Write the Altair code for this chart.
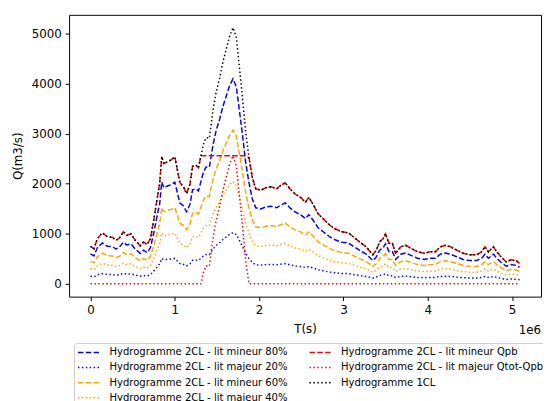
import altair as alt
import pandas as pd

# time (in 1e6 s)
T_E6 = [0.00, 0.04, 0.08, 0.14, 0.20, 0.26, 0.30, 0.34, 0.39, 0.43, 0.48, 0.53, 0.59, 0.63, 0.67,
        0.71, 0.75, 0.79, 0.82, 0.845, 0.87, 0.92, 0.96, 1.00, 1.06, 1.10, 1.14, 1.18, 1.21, 1.25,
        1.28, 1.31, 1.34, 1.37, 1.41, 1.45, 1.49, 1.53, 1.57, 1.61, 1.65, 1.69, 1.73, 1.76, 1.80,
        1.84, 1.88, 1.92, 1.96, 2.02, 2.08, 2.14, 2.21, 2.25, 2.31, 2.37, 2.43, 2.49, 2.55, 2.59,
        2.64, 2.70, 2.76, 2.84, 2.90, 2.98, 3.06, 3.11, 3.19, 3.27, 3.35, 3.39, 3.43, 3.47, 3.50,
        3.54, 3.58, 3.62, 3.68, 3.74, 3.80, 3.88, 3.96, 4.03, 4.09, 4.15, 4.21, 4.27, 4.35, 4.42,
        4.50, 4.58, 4.64, 4.68, 4.72, 4.78, 4.82, 4.87, 4.93, 4.99, 5.05, 5.09]

Q_1CL = [750, 700, 900, 1020, 940, 930, 870, 910, 1040, 970, 1000, 870, 760, 840, 780,
         900, 1270, 1700, 2000, 2540, 2400, 2450, 2480, 2540, 2020, 1950, 1800, 1990, 2350, 2370,
         2320, 2560, 2790, 2920, 2910, 3440, 3830, 4100, 4430, 4690, 4950, 5120, 4920, 4430, 3770,
         3040, 2520, 2120, 1900, 1870, 1920, 1940, 1900, 1960, 2020, 1890, 1790, 1730, 1630, 1730,
         1590, 1400, 1300, 1170, 1100, 1040, 1020, 950, 840, 740, 580, 670, 840, 900, 1000,
         810, 810, 610, 740, 770, 710, 640, 610, 640, 640, 740, 770, 740, 670, 610,
         580, 580, 640, 740, 640, 740, 640, 540, 440, 480, 460, 410]

Q_MIN80 = [600, 560, 720, 816, 752, 744, 696, 728, 832, 776, 800, 696, 608, 672, 624,
           720, 1016, 1360, 1600, 2032, 1920, 1960, 1984, 2032, 1616, 1560, 1440, 1592, 1880, 1896,
           1856, 2048, 2232, 2336, 2328, 2752, 3064, 3280, 3544, 3752, 3960, 4096, 3936, 3544, 3016,
           2432, 2016, 1696, 1520, 1496, 1536, 1552, 1520, 1568, 1616, 1512, 1432, 1384, 1304, 1384,
           1272, 1120, 1040, 936, 880, 832, 816, 760, 672, 592, 464, 536, 672, 720, 800,
           648, 648, 488, 592, 616, 568, 512, 488, 512, 512, 592, 616, 592, 536, 488,
           464, 464, 512, 592, 512, 592, 512, 432, 352, 384, 368, 328]

Q_MAJ20 = [150, 140, 180, 204, 188, 186, 174, 182, 208, 194, 200, 174, 152, 168, 156,
           180, 254, 340, 400, 508, 480, 490, 496, 508, 404, 390, 360, 398, 470, 474,
           464, 512, 558, 584, 582, 688, 766, 820, 886, 938, 990, 1024, 984, 886, 754,
           608, 504, 424, 380, 374, 384, 388, 380, 392, 404, 378, 358, 346, 326, 346,
           318, 280, 260, 234, 220, 208, 204, 190, 168, 148, 116, 134, 168, 180, 200,
           162, 162, 122, 148, 154, 142, 128, 122, 128, 128, 148, 154, 148, 134, 122,
           116, 116, 128, 148, 128, 148, 128, 108, 88, 96, 92, 82]

Q_MIN60 = [450, 420, 540, 612, 564, 558, 522, 546, 624, 582, 600, 522, 456, 504, 468,
           540, 762, 1020, 1200, 1524, 1440, 1470, 1488, 1524, 1212, 1170, 1080, 1194, 1410, 1422,
           1392, 1536, 1674, 1752, 1746, 2064, 2298, 2460, 2658, 2814, 2970, 3072, 2952, 2658, 2262,
           1824, 1512, 1272, 1140, 1122, 1152, 1164, 1140, 1176, 1212, 1134, 1074, 1038, 978, 1038,
           954, 840, 780, 702, 660, 624, 612, 570, 504, 444, 348, 402, 504, 540, 600,
           486, 486, 366, 444, 462, 426, 384, 366, 384, 384, 444, 462, 444, 402, 366,
           348, 348, 384, 444, 384, 444, 384, 324, 264, 288, 276, 246]

Q_MAJ40 = [300, 280, 360, 408, 376, 372, 348, 364, 416, 388, 400, 348, 304, 336, 312,
           360, 508, 680, 800, 1016, 960, 980, 992, 1016, 808, 780, 720, 796, 940, 948,
           928, 1024, 1116, 1168, 1164, 1376, 1532, 1640, 1772, 1876, 1980, 2048, 1968, 1772, 1508,
           1216, 1008, 848, 760, 748, 768, 776, 760, 784, 808, 756, 716, 692, 652, 692,
           636, 560, 520, 468, 440, 416, 408, 380, 336, 296, 232, 268, 336, 360, 400,
           324, 324, 244, 296, 308, 284, 256, 244, 256, 256, 296, 308, 296, 268, 244,
           232, 232, 256, 296, 256, 296, 256, 216, 176, 192, 184, 164]

Q_MIN_QPB = [750, 700, 900, 1020, 940, 930, 870, 910, 1040, 970, 1000, 870, 760, 840, 780,
             900, 1270, 1700, 2000, 2540, 2400, 2450, 2480, 2540, 2020, 1950, 1800, 1990, 2350, 2370,
             2320, 2560, 2560, 2560, 2560, 2560, 2560, 2560, 2560, 2560, 2560, 2560, 2560, 2560, 2560,
             2560, 2520, 2120, 1900, 1870, 1920, 1940, 1900, 1960, 2020, 1890, 1790, 1730, 1630, 1730,
             1590, 1400, 1300, 1170, 1100, 1040, 1020, 950, 840, 740, 580, 670, 840, 900, 1000,
             810, 810, 610, 740, 770, 710, 640, 610, 640, 640, 740, 770, 740, 670, 610,
             580, 580, 640, 740, 640, 740, 640, 540, 440, 480, 460, 410]

Q_MAJ_QTOT = [0, 0, 0, 0, 0, 0, 0, 0, 0, 0, 0, 0, 0, 0, 0,
              0, 0, 0, 0, 0, 0, 0, 0, 0, 0, 0, 0, 0, 0, 0,
              0, 0, 230, 360, 350, 880, 1270, 1540, 1870, 2130, 2390, 2560, 2360, 1870, 1210,
              480, 0, 0, 0, 0, 0, 0, 0, 0, 0, 0, 0, 0, 0, 0,
              0, 0, 0, 0, 0, 0, 0, 0, 0, 0, 0, 0, 0, 0, 0,
              0, 0, 0, 0, 0, 0, 0, 0, 0, 0, 0, 0, 0, 0, 0,
              0, 0, 0, 0, 0, 0, 0, 0, 0, 0, 0, 0]

N_MIN80 = "Hydrogramme 2CL - lit mineur 80%"
N_MAJ20 = "Hydrogramme 2CL - lit majeur 20%"
N_MIN60 = "Hydrogramme 2CL - lit mineur 60%"
N_MAJ40 = "Hydrogramme 2CL - lit majeur 40%"
N_QPB = "Hydrogramme 2CL - lit mineur Qpb"
N_QTOT = "Hydrogramme 2CL - lit majeur Qtot-Qpb"
N_1CL = "Hydrogramme 1CL"

series = [
    (N_MIN80, Q_MIN80),
    (N_MAJ20, Q_MAJ20),
    (N_MIN60, Q_MIN60),
    (N_MAJ40, Q_MAJ40),
    (N_QPB, Q_MIN_QPB),
    (N_QTOT, Q_MAJ_QTOT),
    (N_1CL, Q_1CL),
]

rows = []
for name, vals in series:
    for t, q in zip(T_E6, vals):
        rows.append({"t": t * 1e6, "q": q, "serie": name})
df = pd.DataFrame(rows)

DASH = [5.55, 2.4]
DOT = [1.5, 2.475]
legend_order = [N_MIN80, N_MAJ20, N_MIN60, N_MAJ40, N_QPB, N_QTOT, N_1CL]
legend_colors = ["#0000ff", "#0000ff", "#ffa500", "#ffa500", "#ff0000", "#ff0000", "#000000"]
legend_dashes = [DASH, DOT, DASH, DOT, DASH, DOT, DOT]

W, H = 479, 286

leg = alt.Legend(
    title=None, orient="none", legendX=5, legendY=333, columns=2,
    symbolType="M-1,0H3", symbolSize=121, symbolStrokeWidth=1.5,
    labelFontSize=10.2, labelFont="DejaVu Sans", labelColor="black", labelLimit=400,
    labelOffset=20, rowPadding=3.4, columnPadding=19, padding=3,
    strokeColor="#cccccc", fillColor="white", cornerRadius=3,
)

xenc = alt.X("t:Q", scale=alt.Scale(domain=[-254500, 5344500], nice=False, zero=False),
             axis=alt.Axis(title="T(s)", values=[0, 1e6, 2e6, 3e6, 4e6, 5e6],
                           labelExpr="datum.value / 1000000"))
yenc = alt.Y("q:Q", scale=alt.Scale(domain=[-256, 5376], nice=False, zero=False),
             axis=alt.Axis(title="Q(m3/s)", values=[0, 1000, 2000, 3000, 4000, 5000], format="d"))
cenc = alt.Color("serie:N", scale=alt.Scale(domain=legend_order, range=legend_colors), legend=leg)
denc = alt.StrokeDash("serie:N", scale=alt.Scale(domain=legend_order, range=legend_dashes), legend=leg)

layers = []
for name, _ in series:
    layers.append(
        alt.Chart(df).transform_filter(alt.datum.serie == name)
        .mark_line(strokeWidth=1.5, strokeCap="butt")
        .encode(x=xenc, y=yenc, color=cenc, strokeDash=denc)
    )

offset_text = alt.Chart(pd.DataFrame({"txt": ["1e6"]})).mark_text(
    align="right", baseline="middle", fontSize=12, font="DejaVu Sans", color="black"
).encode(x=alt.value(W), y=alt.value(H + 34), text="txt:N")

chart = alt.layer(*layers, offset_text).properties(
    width=W, height=H,
    autosize=alt.AutoSizeParams(type="none"),
    padding={"left": 62, "top": 4, "right": 2, "bottom": 105},
    background="white",
).configure_view(
    stroke="black", strokeWidth=1
).configure_axis(
    grid=False, domain=False, ticks=True, tickSize=4, tickColor="black", tickWidth=1,
    labelFont="DejaVu Sans", labelFontSize=12, labelColor="black", labelPadding=4,
    titleFont="DejaVu Sans", titleFontSize=12, titleFontWeight="normal", titleColor="black",
).configure_axisX(titlePadding=8).configure_axisY(titlePadding=7)

chart.save("out.html", embed_options={"renderer": "svg", "actions": False})
